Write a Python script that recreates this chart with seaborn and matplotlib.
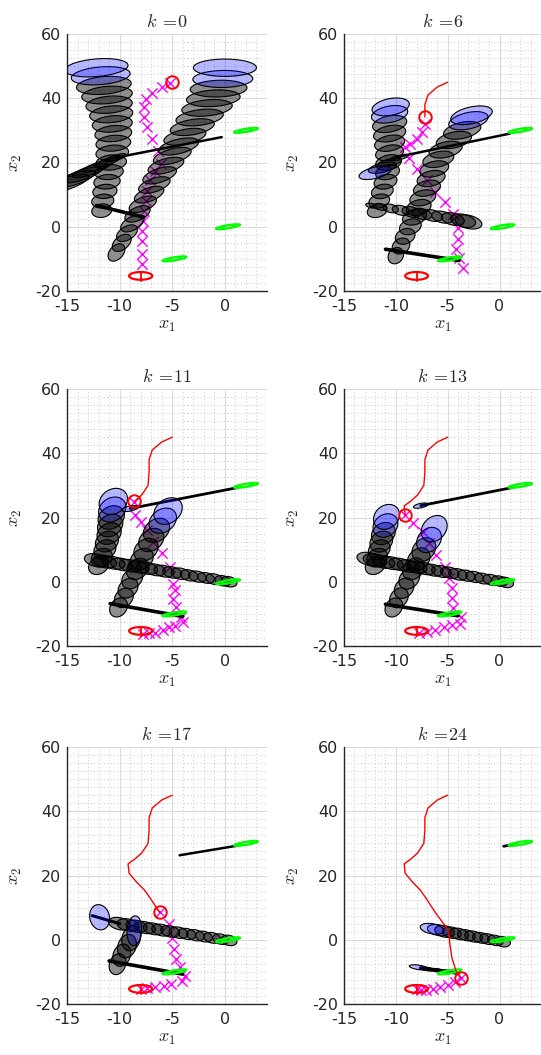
import numpy as np
import seaborn as sns
import matplotlib.pyplot as plt
from matplotlib.patches import Polygon
from matplotlib.ticker import MultipleLocator

# ---------------- data ----------------
k_values = [0, 6, 11, 13, 17, 24]

# robot path (red) and index of the current position in each panel
red_x = [-5.0, -6.0, -6.9, -7.2, -7.2, -7.3, -7.9, -8.6, -9.2, -9.1, -8.4, -7.6, -7.0, -6.2, -5.6, -4.9, -4.8, -4.6, -4.2, -3.7]
red_y = [45.0, 43.5, 41.0, 38.0, 34.2, 30.0, 27.0, 25.0, 23.6, 20.7, 18.0, 15.3, 12.5, 8.5, 5.9, 2.8, -1.0, -5.5, -9.7, -11.8]
red_idx = [0, 4, 7, 9, 13, 19]

goal_x, goal_y = -8.0, -15.3

# measured obstacles (green)
obs_x = [2.0, 0.3, -4.8]
obs_y = [30.0, 0.0, -10.0]

# predicted robot trajectory (magenta crosses)
k0_mx = [-5.2, -6.0, -6.9, -7.5, -7.7, -7.7, -7.4, -6.9, -6.4, -6.1, -6.6, -7.1, -7.4, -7.5, -7.7, -7.8, -7.9, -7.9, -7.9, -7.9]
k0_my = [44.6, 43.5, 41.5, 39.9, 37.3, 34.2, 31.0, 27.4, 23.5, 19.6, 17.5, 14.4, 11.2, 8.1, 5.0, 1.9, -1.3, -4.4, -8.5, -11.7]
k6_mx = [-7.2, -7.5, -8.0, -8.6, -9.1, -8.7, -8.0, -7.0, -6.2, -5.3, -4.5, -4.0, -4.0, -4.2, -3.9, -3.5]
k6_my = [32.1, 29.5, 27.4, 25.8, 24.8, 21.5, 18.0, 14.4, 10.7, 7.6, 3.9, -0.3, -3.9, -7.0, -9.6, -12.8]
k11_mx = [-8.6, -8.5, -8.0, -7.4, -6.8, -6.0, -5.2, -4.9, -4.7, -4.9, -4.6, -4.2, -4.0, -4.7, -5.3, -5.9, -6.6, -7.2, -7.8]
k11_my = [24.7, 20.7, 18.6, 16.0, 12.5, 8.8, 4.6, -0.6, -2.7, -5.3, -7.9, -11.0, -12.6, -13.7, -14.2, -15.0, -15.8, -16.0, -16.2]
k13_mx = [-9.1, -8.3, -7.4, -6.8, -6.1, -5.3, -4.9, -4.6, -4.6, -4.5, -3.7, -3.8, -4.6, -5.4, -6.2, -7.0, -7.8]
k13_my = [20.7, 18.2, 15.6, 12.0, 8.3, 4.6, 1.2, -2.1, -5.2, -8.3, -10.9, -13.0, -13.5, -14.0, -15.0, -15.5, -15.8]
k17_mx = [-6.2, -5.3, -5.0, -4.8, -4.6, -4.3, -3.8, -4.1, -5.1, -5.8, -6.6, -7.4, -8.0]
k17_my = [8.5, 4.9, 0.7, -2.9, -6.0, -8.6, -11.2, -12.8, -13.9, -14.4, -14.7, -15.0, -15.2]
k24_mx = [-3.7, -4.3, -5.0, -5.7, -6.4, -7.1, -7.6, -8.0]
k24_my = [-11.8, -13.0, -14.0, -14.8, -15.3, -15.6, -15.6, -15.4]

# predicted obstacle ellipses: centres, widths, heights, skew
k0_L_x = [-11.7, -11.6, -11.4, -11.2, -11.0, -10.8, -10.7, -10.6, -10.6, -10.7, -10.8, -11.0, -11.2, -11.5, -11.8, -12.2]
k0_L_y = [5.0, 8.0, 11.0, 14.0, 17.0, 20.0, 23.0, 26.0, 29.0, 32.0, 35.0, 38.0, 41.0, 44.0, 47.0, 49.5]
k0_L_w = [1.9, 2.1, 2.3, 2.5, 2.7, 2.9, 3.1, 3.3, 3.5, 3.8, 4.1, 4.4, 4.8, 5.2, 5.6, 6.0]
k0_L_h = [4.2, 4.3, 4.4, 4.5, 4.6, 4.7, 4.8, 4.9, 5.0, 5.1, 5.2, 5.3, 5.4, 5.5, 5.5, 5.5]
k0_L_s = 0.25

k0_R_x = [-10.3, -9.8, -9.3, -8.8, -8.3, -7.8, -7.2, -6.7, -6.2, -5.6, -5.0, -4.4, -3.8, -3.1, -2.4, -1.7, -1.1, -0.6, -0.2, 0.0]
k0_R_y = [-8.0, -5.0, -2.0, 1.0, 4.0, 7.0, 10.0, 13.0, 16.0, 19.0, 22.0, 25.0, 28.0, 31.0, 34.0, 37.0, 40.0, 43.0, 46.0, 49.5]
k0_R_w = [1.6, 1.8, 2.0, 2.2, 2.4, 2.6, 2.8, 3.0, 3.2, 3.4, 3.6, 3.8, 4.0, 4.2, 4.5, 4.8, 5.1, 5.4, 5.7, 6.0]
k0_R_h = [5.0, 4.8, 4.6, 4.5, 4.4, 4.4, 4.4, 4.4, 4.5, 4.5, 4.6, 4.6, 4.7, 4.8, 4.9, 5.0, 5.1, 5.2, 5.3, 5.4]
k0_R_s = [1.3, 1.3, 1.2, 1.2, 1.1, 1.0, 1.0, 0.9, 0.9, 0.8, 0.8, 0.7, 0.6, 0.5, 0.4, 0.3, 0.2, 0.1, 0.05, 0.0]

k0_T_x = [-10.4, -11.2, -12.0, -12.8, -13.6, -14.4, -15.2]
k0_T_y = [21.5, 20.2, 18.9, 17.5, 16.1, 14.7, 13.3]
k0_T_w = [2.0, 2.5, 3.0, 3.4, 3.8, 4.2, 4.6]
k0_T_h = [1.6, 2.0, 2.4, 2.8, 3.2, 3.6, 4.0]
k0_T_s = 1.0

k6_L_x = [-11.8, -11.6, -11.3, -11.0, -10.8, -10.7, -10.6, -10.6, -10.6, -10.6, -10.6, -10.5]
k6_L_y = [5.0, 8.0, 11.0, 14.0, 17.0, 20.0, 23.0, 26.0, 29.0, 32.0, 35.0, 37.3]
k6_L_w = [1.9, 2.0, 2.1, 2.2, 2.3, 2.5, 2.7, 2.9, 3.1, 3.3, 3.5, 3.6]
k6_L_h = [4.2, 4.3, 4.4, 4.5, 4.6, 4.7, 4.8, 4.9, 5.0, 5.1, 5.2, 5.3]
k6_L_s = 0.5

k6_R_x = [-10.0, -9.5, -9.1, -8.6, -8.2, -7.8, -7.4, -7.0, -6.6, -6.3, -5.9, -5.2, -4.4, -3.6, -3.0, -2.7]
k6_R_y = [-9.0, -6.0, -3.0, 0.0, 3.0, 6.0, 9.0, 12.0, 15.0, 18.0, 21.0, 24.0, 27.0, 30.0, 33.0, 34.7]
k6_R_w = [1.5, 1.7, 1.9, 2.1, 2.3, 2.4, 2.5, 2.6, 2.7, 2.8, 3.0, 3.2, 3.4, 3.6, 3.8, 4.0]
k6_R_h = [5.0, 4.9, 4.8, 4.8, 4.8, 4.8, 4.8, 4.8, 4.8, 4.8, 4.8, 4.9, 5.0, 5.1, 5.2, 5.3]
k6_R_s = 0.6

k6_T_x = [-9.7, -10.6, -11.3, -12.0]
k6_T_y = [21.5, 20.0, 18.4, 16.8]
k6_T_w = [1.8, 2.3, 2.7, 3.1]
k6_T_h = [1.4, 2.2, 3.0, 3.6]
k6_T_s = 0.7

k6_H_x = [-12.4, -11.5, -10.5, -9.5, -8.5, -7.5, -6.5, -5.5, -4.5, -3.5, -3.0]
k6_H_y = [6.6, 6.2, 5.7, 5.1, 4.6, 4.0, 3.5, 3.0, 2.4, 1.9, 1.5]
k6_H_w = [1.0, 1.3, 1.5, 1.7, 1.8, 1.9, 2.0, 2.1, 2.2, 2.4, 2.6]
k6_H_h = [1.4, 2.0, 2.6, 3.0, 3.2, 3.4, 3.5, 3.6, 3.8, 4.0, 4.2]
k6_H_s = -0.55

k11_L_x = [-12.0, -11.7, -11.4, -11.2, -11.0, -10.9, -10.8, -10.7, -10.6]
k11_L_y = [5.0, 7.5, 10.0, 12.5, 15.0, 17.5, 20.0, 22.5, 25.0]
k11_L_w = [1.9, 2.0, 2.1, 2.2, 2.3, 2.4, 2.5, 2.6, 2.7]
k11_L_h = [5.4, 5.7, 6.0, 6.3, 6.6, 6.9, 7.2, 7.6, 8.0]
k11_L_s = 0.6

k11_R_x = [-10.1, -9.6, -9.2, -8.8, -8.3, -7.9, -7.5, -7.0, -6.5, -5.9, -5.4]
k11_R_y = [-8.0, -5.0, -2.0, 1.0, 4.0, 7.0, 10.0, 13.0, 16.0, 19.0, 22.0]
k11_R_w = [1.7, 1.8, 1.9, 2.0, 2.1, 2.2, 2.3, 2.4, 2.5, 2.6, 2.7]
k11_R_h = [5.8, 5.9, 6.0, 6.2, 6.4, 6.6, 6.8, 7.0, 7.3, 7.6, 8.0]
k11_R_s = 0.8

k11_H_x = [0.4, -0.2, -1.0, -1.8, -2.6, -3.4, -4.2, -5.0, -5.8, -6.6, -7.4, -8.2, -9.0, -9.8, -10.6, -11.4, -12.2]
k11_H_y = [0.0, 0.3, 0.8, 1.2, 1.6, 2.0, 2.5, 2.9, 3.3, 3.7, 4.2, 4.6, 5.0, 5.4, 5.9, 6.3, 6.7]
k11_H_w = [1.5, 1.5, 1.6, 1.6, 1.7, 1.7, 1.8, 1.8, 1.9, 1.9, 2.0, 2.0, 2.1, 2.1, 2.2, 2.2, 2.3]
k11_H_h = [3.2, 3.2, 3.3, 3.3, 3.4, 3.4, 3.5, 3.5, 3.6, 3.6, 3.7, 3.7, 3.8, 3.8, 3.9, 3.9, 4.0]
k11_H_s = -0.5

k11_T_x = [-9.0]
k11_T_y = [22.8]
k11_T_w = [1.6]
k11_T_h = [1.6]
k11_T_s = 0.6

k13_L_x = [-12.0, -11.8, -11.6, -11.4, -11.2, -11.0, -10.9]
k13_L_y = [5.0, 7.5, 10.0, 12.5, 15.0, 17.5, 20.2]
k13_L_w = [1.9, 2.0, 2.1, 2.2, 2.3, 2.4, 2.5]
k13_L_h = [5.4, 5.7, 6.0, 6.4, 6.8, 7.2, 7.6]
k13_L_s = 0.6

k13_R_x = [-10.2, -9.7, -9.2, -8.7, -8.3, -7.8, -7.3, -6.8, -6.3]
k13_R_y = [-8.0, -5.0, -2.0, 1.0, 4.0, 7.0, 10.0, 13.0, 16.5]
k13_R_w = [1.7, 1.8, 1.9, 2.0, 2.1, 2.2, 2.3, 2.4, 2.5]
k13_R_h = [5.8, 6.0, 6.2, 6.4, 6.6, 6.9, 7.2, 7.6, 8.0]
k13_R_s = 0.8

k13_H_x = [0.6, 0.0, -0.8, -1.6, -2.4, -3.2, -4.0, -4.8, -5.6, -6.4, -7.2, -8.0, -8.8, -9.6, -10.4, -11.2, -12.0, -12.6]
k13_H_y = [-0.2, 0.2, 0.6, 1.0, 1.5, 1.9, 2.3, 2.8, 3.2, 3.6, 4.1, 4.5, 4.9, 5.4, 5.8, 6.2, 6.7, 7.1]
k13_H_w = [1.5, 1.5, 1.6, 1.6, 1.7, 1.7, 1.8, 1.8, 1.9, 1.9, 2.0, 2.0, 2.1, 2.1, 2.2, 2.2, 2.3, 2.3]
k13_H_h = [3.2, 3.2, 3.3, 3.3, 3.4, 3.4, 3.5, 3.5, 3.6, 3.6, 3.7, 3.7, 3.8, 3.8, 3.9, 3.9, 4.0, 4.0]
k13_H_s = -0.5

k13_T_x = [-7.6]
k13_T_y = [23.7]
k13_T_w = [1.4]
k13_T_h = [1.4]
k13_T_s = 0.6

k17_H_x = [0.4, -0.4, -1.2, -2.0, -2.8, -3.6, -4.4, -5.2, -6.0, -6.8, -7.6, -8.4, -9.2, -10.0, -11.9]
k17_H_y = [-0.2, 0.2, 0.6, 1.0, 1.4, 1.8, 2.2, 2.6, 3.0, 3.4, 3.8, 4.2, 4.6, 5.0, 7.0]
k17_H_w = [1.5, 1.5, 1.6, 1.6, 1.7, 1.7, 1.8, 1.8, 1.9, 1.9, 2.0, 2.0, 2.1, 2.1, 1.9]
k17_H_h = [3.2, 3.2, 3.3, 3.3, 3.4, 3.4, 3.5, 3.5, 3.6, 3.6, 3.7, 3.7, 3.8, 3.8, 7.8]
k17_H_s = -0.5

k17_R_x = [-10.2, -9.8, -9.3, -8.9, -8.6]
k17_R_y = [-7.6, -4.8, -2.0, 0.5, 2.8]
k17_R_w = [1.6, 1.7, 1.8, 1.8, 1.4]
k17_R_h = [6.4, 6.8, 7.2, 7.8, 9.2]
k17_R_s = 0.8

k24_H_x = [0.3, -0.4, -1.1, -1.8, -2.5, -3.2, -3.9, -4.6, -5.3, -5.9, -6.5]
k24_H_y = [-0.6, -0.2, 0.2, 0.6, 1.0, 1.4, 1.8, 2.2, 2.6, 3.0, 3.4]
k24_H_w = [1.5, 1.5, 1.6, 1.6, 1.7, 1.7, 1.8, 1.8, 1.9, 2.1, 2.3]
k24_H_h = [3.2, 3.2, 3.3, 3.3, 3.4, 3.4, 3.5, 3.5, 3.6, 3.4, 3.2]
k24_H_s = -0.5

k24_B_x = [-5.0, -6.0, -7.0, -7.8]
k24_B_y = [-9.9, -9.5, -9.1, -8.6]
k24_B_w = [1.2, 1.3, 1.4, 1.8]
k24_B_h = [0.9, 1.0, 1.1, 1.4]
k24_B_s = -0.45

# thin predicted segments drawn as lines: (x0, x1), (y0, y1)
k0_seg_x = [(-0.3, -10.4), (-12.2, -7.7)]
k0_seg_y = [(27.9, 21.5), (6.6, 3.0)]
k6_seg_x = [(1.0, -9.9), (-11.0, -3.9)]
k6_seg_y = [(29.0, 21.7), (-7.0, -10.5)]
k11_seg_x = [(1.2, -9.0), (-10.9, -4.0)]
k11_seg_y = [(29.3, 22.8), (-6.8, -10.8)]
k13_seg_x = [(1.2, -7.6), (-11.0, -4.0)]
k13_seg_y = [(29.3, 23.7), (-7.0, -10.6)]
k17_seg_x = [(1.2, -4.3), (-11.0, -4.0), (-10.0, -12.6)]
k17_seg_y = [(29.3, 26.3), (-6.6, -10.7), (5.0, 7.5)]
k24_seg_x = [(0.4, 1.6), (-4.0, -7.6)]
k24_seg_y = [(29.1, 29.8), (-10.4, -8.8)]

# ---------------- panel assembly ----------------
# tube = (x, y, w, h, skew, number of final ellipses shown in blue)
panels = [
    dict(tubes=[(k0_L_x, k0_L_y, k0_L_w, k0_L_h, k0_L_s, 2),
                (k0_R_x, k0_R_y, k0_R_w, k0_R_h, k0_R_s, 2),
                (k0_T_x, k0_T_y, k0_T_w, k0_T_h, k0_T_s, 0)],
         segs=(k0_seg_x, k0_seg_y, [1.8, 2.6]), mag=(k0_mx, k0_my)),
    dict(tubes=[(k6_H_x, k6_H_y, k6_H_w, k6_H_h, k6_H_s, 0),
                (k6_L_x, k6_L_y, k6_L_w, k6_L_h, k6_L_s, 2),
                (k6_R_x, k6_R_y, k6_R_w, k6_R_h, k6_R_s, 2),
                (k6_T_x, k6_T_y, k6_T_w, k6_T_h, k6_T_s, 1)],
         segs=(k6_seg_x, k6_seg_y, [1.8, 2.6]), mag=(k6_mx, k6_my)),
    dict(tubes=[(k11_H_x, k11_H_y, k11_H_w, k11_H_h, k11_H_s, 0),
                (k11_L_x, k11_L_y, k11_L_w, k11_L_h, k11_L_s, 2),
                (k11_R_x, k11_R_y, k11_R_w, k11_R_h, k11_R_s, 2),
                (k11_T_x, k11_T_y, k11_T_w, k11_T_h, k11_T_s, 1)],
         segs=(k11_seg_x, k11_seg_y, [2.0, 2.6]), mag=(k11_mx, k11_my)),
    dict(tubes=[(k13_H_x, k13_H_y, k13_H_w, k13_H_h, k13_H_s, 0),
                (k13_L_x, k13_L_y, k13_L_w, k13_L_h, k13_L_s, 2),
                (k13_R_x, k13_R_y, k13_R_w, k13_R_h, k13_R_s, 2),
                (k13_T_x, k13_T_y, k13_T_w, k13_T_h, k13_T_s, 1)],
         segs=(k13_seg_x, k13_seg_y, [2.0, 2.6]), mag=(k13_mx, k13_my)),
    dict(tubes=[(k17_H_x, k17_H_y, k17_H_w, k17_H_h, k17_H_s, 1),
                (k17_R_x, k17_R_y, k17_R_w, k17_R_h, k17_R_s, 1)],
         segs=(k17_seg_x, k17_seg_y, [1.8, 2.6, 2.2]), mag=(k17_mx, k17_my)),
    dict(tubes=[(k24_H_x, k24_H_y, k24_H_w, k24_H_h, k24_H_s, 2),
                (k24_B_x, k24_B_y, k24_B_w, k24_B_h, k24_B_s, 1)],
         segs=(k24_seg_x, k24_seg_y, [2.0, 2.6]), mag=(k24_mx, k24_my)),
]

# ---------------- style ----------------
sns.set_style("white")
plt.rcParams["font.family"] = ["DejaVu Sans"]
plt.rcParams["mathtext.fontset"] = "cm"
plt.rcParams["axes.unicode_minus"] = False

GREY = (0, 0, 0, 0.44)
BLUE = (0, 0, 1, 0.28)
DARK = "0.15"
T = np.linspace(0, 2 * np.pi, 64)


def ellipse(ax, cx, cy, w, h, s, fc, ec, lw, z):
    a, b = w / 2, h / 2
    px = cx + a * np.cos(T)
    py = cy + b * np.sin(T) + s * a * np.cos(T)
    ax.add_patch(Polygon(np.column_stack([px, py]), closed=True,
                         facecolor=fc, edgecolor=ec, lw=lw, zorder=z))


W, H = 541, 1055
fig = plt.figure(figsize=(W / 100, H / 100), dpi=100)
col_left = [67, 344]
col_w = [200, 197]
row_top = [34, 389, 747]
ax_h = 257

for i, (k, p) in enumerate(zip(k_values, panels)):
    r, c = divmod(i, 2)
    ax = fig.add_axes([col_left[c] / W, (H - row_top[r] - ax_h) / H, col_w[c] / W, ax_h / H])
    ax.set_xlim(-15, 4)
    ax.set_ylim(-20, 60)
    ax.set_xticks([-15, -10, -5, 0])
    ax.set_yticks([-20, 0, 20, 40, 60])
    ax.xaxis.set_minor_locator(MultipleLocator(1))
    ax.yaxis.set_minor_locator(MultipleLocator(2.5))
    ax.set_axisbelow(True)
    ax.grid(True, which="major", color="0.86", lw=0.8)
    ax.grid(True, which="minor", color="0.72", lw=0.6, ls=(0, (1, 3)))
    for side in ["top", "right"]:
        ax.spines[side].set_visible(False)
    for side in ["left", "bottom"]:
        ax.spines[side].set_color(DARK)
        ax.spines[side].set_linewidth(1.0)
    ax.tick_params(which="major", direction="in", length=3, color=DARK,
                   labelsize=11.5, labelcolor=DARK)
    ax.tick_params(axis="x", which="major", pad=6)
    ax.tick_params(axis="y", which="major", pad=4)
    ax.tick_params(which="minor", length=0)

    # predicted robot trajectory
    mx, my = p["mag"]
    sns.scatterplot(x=mx, y=my, marker="x", color="magenta", s=55,
                    linewidth=1.0, ax=ax, zorder=2, legend=False)

    # thin predicted obstacle segments
    sx, sy, slw = p["segs"]
    for xs, ys, lw in zip(sx, sy, slw):
        ax.plot(xs, ys, color="k", lw=lw, solid_capstyle="round", zorder=3)

    # obstacle uncertainty tubes
    for tx, ty, tw, th, ts, nb in p["tubes"]:
        n = len(tx)
        sk = np.broadcast_to(np.asarray(ts, dtype=float), (n,))
        for j in range(n):
            fc = BLUE if j >= n - nb else GREY
            ellipse(ax, tx[j], ty[j], tw[j], th[j], sk[j], fc, "k", 0.8, 3.2)

    # measured obstacles
    for ox, oy in zip(obs_x, obs_y):
        ellipse(ax, ox - 0.25, oy - 0.15, 1.8, 1.0, 0.5, "none", (0, 1, 0), 1.4, 4)
        ellipse(ax, ox + 0.25, oy + 0.15, 1.8, 1.0, 0.5, "none", (0, 1, 0), 1.4, 4)

    # goal region
    ellipse(ax, goal_x, goal_y, 2.2, 2.4, 0.0, "none", "red", 1.6, 5)
    ax.plot([goal_x, goal_x], [goal_y - 1.6, goal_y + 1.3], color="red", lw=1.3, zorder=5)

    # robot path and current position
    n = red_idx[i] + 1
    if n > 1:
        sns.lineplot(x=red_x[:n], y=red_y[:n], sort=False, estimator=None,
                     color="red", lw=1.0, ax=ax, zorder=5)
    ax.plot(red_x[n - 1], red_y[n - 1], "o", mfc="none", mec="red",
            ms=9, mew=1.4, zorder=6)

    ax.set_title(r"$k\;=\!%d$" % k, fontsize=13, color=DARK, pad=5)
    ax.set_xlabel(r"$x_1$", fontsize=13, color=DARK, labelpad=1)
    ax.set_ylabel(r"$x_2$", fontsize=13, color=DARK, labelpad=8)

fig.savefig("out.png", dpi=100)
